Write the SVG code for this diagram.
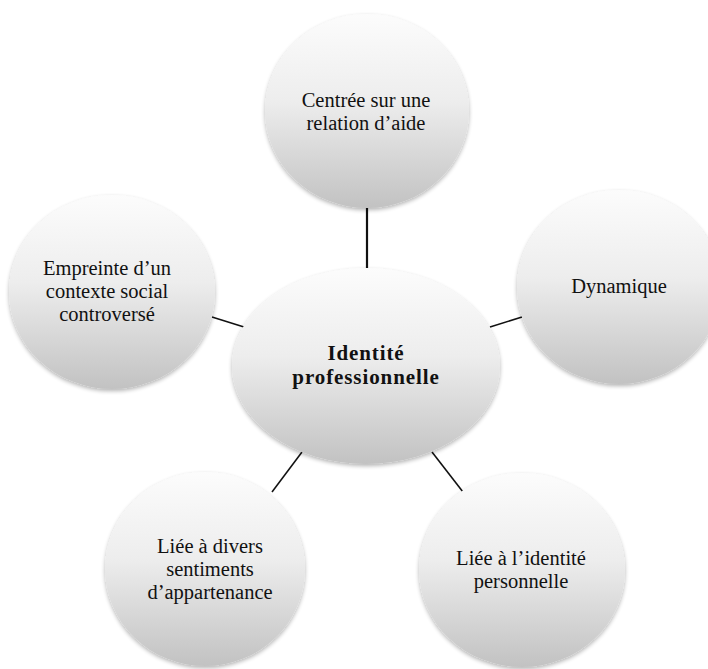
<svg xmlns="http://www.w3.org/2000/svg" width="708" height="669" viewBox="0 0 708 669">
<defs>
  <linearGradient id="g" x1="0" y1="0" x2="0" y2="1">
    <stop offset="0" stop-color="#fcfcfc"/>
    <stop offset="0.45" stop-color="#ededed"/>
    <stop offset="1" stop-color="#c2c2c2"/>
  </linearGradient>
  <filter id="sh" x="-20%" y="-20%" width="140%" height="140%">
    <feGaussianBlur in="SourceAlpha" stdDeviation="2"/>
    <feOffset dx="0" dy="2" result="b"/>
    <feComponentTransfer><feFuncA type="linear" slope="0.3"/></feComponentTransfer>
    <feMerge><feMergeNode/><feMergeNode in="SourceGraphic"/></feMerge>
  </filter>
</defs>
<style>
  .n { fill: url(#g); filter: url(#sh); }
  .t { font-family: 'Liberation Serif', 'Times New Roman', serif; font-size: 20.5px; fill: #111; text-anchor: middle; }
  .b { font-family: 'Liberation Serif', 'Times New Roman', serif; font-size: 21px; font-weight: bold; fill: #111; text-anchor: middle; letter-spacing: 0.9px; }
  .c { stroke: #111; stroke-width: 1.6; fill: none; }
</style>
<rect width="708" height="669" fill="#ffffff"/>
<g id="connectors">
  <line class="c" x1="367" y1="208" x2="367" y2="268" style="stroke-width:2.2"/>
  <line class="c" x1="212" y1="317" x2="244" y2="327"/>
  <line class="c" x1="490" y1="327" x2="522" y2="317"/>
  <line class="c" x1="302" y1="452" x2="272" y2="492"/>
  <line class="c" x1="432" y1="452" x2="463" y2="492"/>
</g>
<g id="n-top">
  <ellipse class="n" cx="367" cy="111" rx="102" ry="97"/>
  <text class="t" x="366" y="107">Centrée sur une</text>
  <text class="t" x="366" y="130">relation d’aide</text>
</g>
<g id="n-left">
  <ellipse class="n" cx="112" cy="292" rx="103" ry="97"/>
  <text class="t" x="107" y="275">Empreinte d’un</text>
  <text class="t" x="107" y="298">contexte social</text>
  <text class="t" x="107" y="321">controversé</text>
</g>
<g id="n-right">
  <ellipse class="n" cx="619" cy="287" rx="102" ry="97"/>
  <text class="t" x="619" y="293">Dynamique</text>
</g>
<g id="n-bl">
  <ellipse class="n" cx="205" cy="569" rx="100" ry="97"/>
  <text class="t" x="210" y="553">Liée à divers</text>
  <text class="t" x="210" y="576">sentiments</text>
  <text class="t" x="210" y="599">d’appartenance</text>
</g>
<g id="n-br">
  <ellipse class="n" cx="522" cy="570" rx="103" ry="97"/>
  <text class="t" x="521" y="565">Liée à l’identité</text>
  <text class="t" x="521" y="588">personnelle</text>
</g>
<g id="n-center">
  <ellipse class="n" cx="366" cy="366" rx="134" ry="98"/>
  <text class="b" x="366" y="360">Identité</text>
  <text class="b" x="366" y="384">professionnelle</text>
</g>
</svg>
